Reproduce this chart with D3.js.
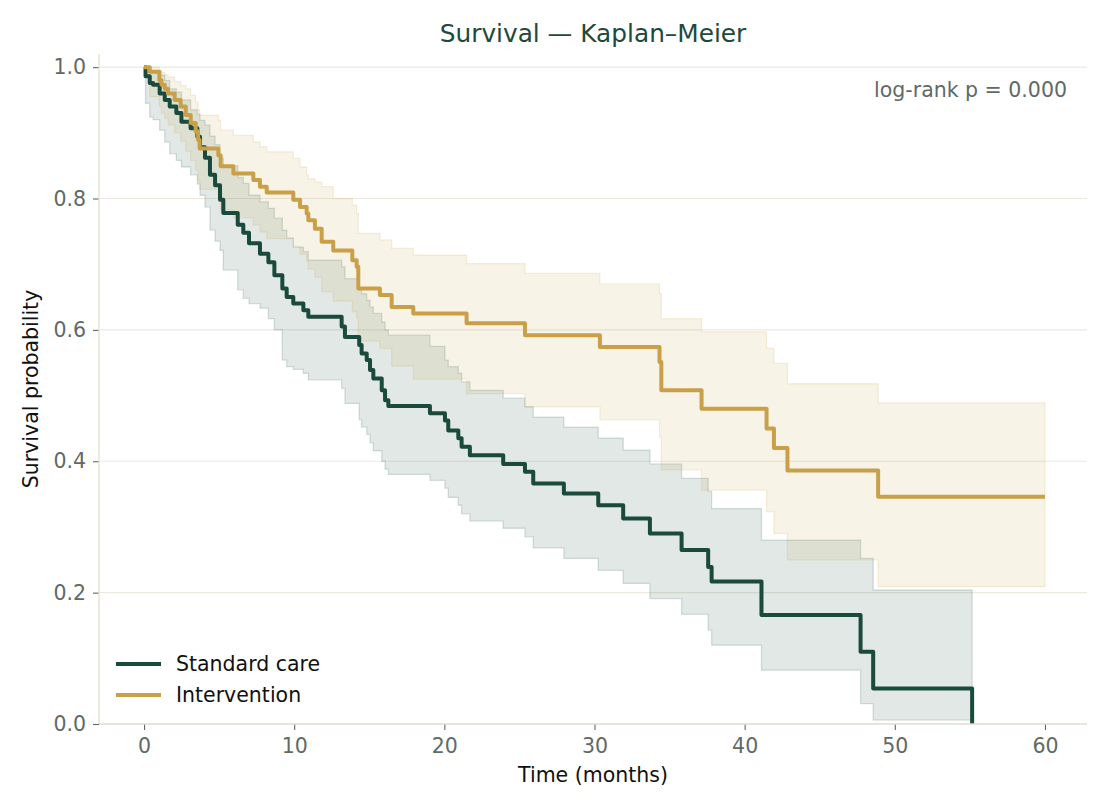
<!DOCTYPE html>
<html>
<head>
<meta charset="utf-8">
<script src="https://cdn.jsdelivr.net/npm/d3@7"></script>
<style>
  html, body { margin: 0; padding: 0; background: #fff; }
  svg { display: block; font-family: "DejaVu Sans", sans-serif; }
</style>
</head>
<body>
<div id="chart"></div>
<script>
/* Kaplan–Meier survival, two arms with step-shaped confidence bands.
 * Values; each array index is one event time. */

// ---- Standard care -------------------------------------------------------
const standardTime = [0, 0.10, 0.38, 0.60, 1.04, 1.38, 1.71, 2.15, 2.49, 3.10, 3.55, 3.73, 4.06, 4.39, 4.73,
  5.06, 5.28, 6.24, 6.61, 6.99, 7.72, 8.28, 8.68, 9.21, 9.50, 9.94, 10.61, 10.94, 13.16, 13.38,
  14.33, 14.49, 14.83, 15.05, 15.27, 15.83, 16.05, 16.27, 19.04, 20.04, 20.26, 20.93, 21.15, 21.70,
  23.92, 25.37, 25.92, 27.96, 30.25, 31.91, 33.69, 35.80, 37.57, 37.80, 41.12, 47.72, 48.56, 55.15];
const standardSurv = [1, 0.986, 0.976, 0.973, 0.960, 0.950, 0.940, 0.930, 0.917, 0.907, 0.894, 0.878, 0.862, 0.836, 0.820,
  0.798, 0.778, 0.760, 0.748, 0.732, 0.716, 0.703, 0.683, 0.663, 0.650, 0.640, 0.630, 0.620, 0.605, 0.589,
  0.577, 0.564, 0.554, 0.539, 0.526, 0.508, 0.493, 0.484, 0.473, 0.462, 0.447, 0.435, 0.422, 0.409,
  0.396, 0.384, 0.366, 0.351, 0.333, 0.313, 0.290, 0.265, 0.239, 0.217, 0.166, 0.110, 0.054, 0];
const standardLower = [1, 0.945, 0.924, 0.920, 0.904, 0.886, 0.868, 0.858, 0.848, 0.836, 0.822, 0.805, 0.787, 0.752, 0.735,
  0.721, 0.691, 0.661, 0.648, 0.640, 0.633, 0.617, 0.600, 0.554, 0.544, 0.540, 0.534, 0.524, 0.511, 0.488,
  0.463, 0.452, 0.441, 0.428, 0.416, 0.400, 0.388, 0.380, 0.371, 0.359, 0.345, 0.333, 0.320, 0.309,
  0.298, 0.285, 0.268, 0.252, 0.234, 0.214, 0.191, 0.167, 0.143, 0.120, 0.082, 0.031, 0.006, 0.006];
const standardUpper = [1, 0.998, 0.995, 0.993, 0.988, 0.980, 0.967, 0.962, 0.950, 0.935, 0.928, 0.919, 0.912, 0.895, 0.882,
  0.861, 0.850, 0.832, 0.823, 0.805, 0.795, 0.785, 0.770, 0.752, 0.740, 0.726, 0.719, 0.706, 0.696, 0.678,
  0.661, 0.655, 0.645, 0.635, 0.625, 0.612, 0.600, 0.592, 0.575, 0.554, 0.544, 0.534, 0.521, 0.508,
  0.496, 0.483, 0.467, 0.452, 0.435, 0.417, 0.396, 0.374, 0.354, 0.328, 0.280, 0.252, 0.204, 0.204];

// ---- Intervention --------------------------------------------------------
const interventionTime = [0, 0.38, 1.02, 1.16, 1.38, 1.60, 2.04, 2.44, 2.78, 3.11, 3.44, 3.60, 3.70, 4.95, 5.10,
  5.95, 7.28, 7.72, 8.17, 9.94, 10.39, 10.83, 10.94, 11.38, 11.83, 12.60, 13.87, 14.16, 14.27,
  15.71, 16.49, 17.93, 21.48, 25.37, 30.36, 34.33, 34.45, 37.13, 41.46, 41.95, 42.85, 48.89, 60.00];
const interventionSurv = [1, 0.993, 0.980, 0.973, 0.967, 0.960, 0.950, 0.940, 0.927, 0.915, 0.902, 0.889, 0.876, 0.866, 0.849,
  0.838, 0.828, 0.818, 0.809, 0.798, 0.787, 0.777, 0.767, 0.754, 0.734, 0.721, 0.706, 0.696, 0.663,
  0.653, 0.635, 0.625, 0.610, 0.592, 0.574, 0.551, 0.508, 0.480, 0.450, 0.420, 0.386, 0.346, 0.346];
const interventionLower = [1, 0.955, 0.940, 0.930, 0.922, 0.912, 0.900, 0.887, 0.872, 0.858, 0.843, 0.828, 0.814, 0.802, 0.783,
  0.771, 0.760, 0.749, 0.739, 0.727, 0.715, 0.704, 0.693, 0.680, 0.658, 0.644, 0.628, 0.618, 0.583,
  0.572, 0.545, 0.525, 0.503, 0.483, 0.463, 0.437, 0.387, 0.356, 0.323, 0.290, 0.250, 0.209, 0.209];
const interventionUpper = [1, 1.000, 0.995, 0.992, 0.988, 0.985, 0.978, 0.972, 0.967, 0.957, 0.947, 0.935, 0.927, 0.919, 0.904,
  0.896, 0.886, 0.879, 0.871, 0.861, 0.848, 0.836, 0.830, 0.825, 0.818, 0.800, 0.790, 0.777, 0.747,
  0.737, 0.724, 0.714, 0.701, 0.686, 0.670, 0.655, 0.617, 0.597, 0.572, 0.549, 0.518, 0.489, 0.489];

const xTicks = [0, 10, 20, 30, 40, 50, 60];
const yTicks = [0, 0.2, 0.4, 0.6, 0.8, 1.0];

const groups = [
  { name: 'Standard care', color: '#1a4a3c', time: standardTime, surv: standardSurv, lo: standardLower, hi: standardUpper },
  { name: 'Intervention',  color: '#c9a047', time: interventionTime, surv: interventionSurv, lo: interventionLower, hi: interventionUpper },
];

/* ---- Layout ------------------------------------------------------------ */
const W = 1110, H = 810;
const plot = { left: 99, right: 1087, top: 54, bottom: 724 };

const svg = d3.select('#chart').append('svg')
  .attr('width', W).attr('height', H);

const x = d3.scaleLinear().domain([-3, 62.8]).range([plot.left, plot.right]);
const y = d3.scaleLinear().domain([0, 1.02]).range([plot.bottom, plot.top]);

// Horizontal grid at the y ticks.
svg.append('g')
  .selectAll('line')
  .data(yTicks)
  .join('line')
  .attr('x1', plot.left).attr('x2', plot.right)
  .attr('y1', d => y(d)).attr('y2', d => y(d))
  .attr('stroke', '#ebe9e2').attr('stroke-width', 1.2);

/* ---- Bands and curves ---------------------------------------------------- */
const gData = svg.append('g');

groups.forEach(g => {
  const rows = g.time.map((t, i) => ({ t, s: g.surv[i], lo: g.lo[i], hi: g.hi[i] }));

  const band = d3.area()
    .curve(d3.curveStepAfter)
    .x(d => x(d.t))
    .y0(d => y(d.lo))
    .y1(d => y(d.hi));

  gData.append('path')
    .datum(rows)
    .attr('d', band)
    .attr('fill', g.color).attr('fill-opacity', 0.13)
    .attr('stroke', g.color).attr('stroke-opacity', 0.16).attr('stroke-width', 1.3);
});

groups.forEach(g => {
  const rows = g.time.map((t, i) => ({ t, s: g.surv[i] }));
  const line = d3.line()
    .curve(d3.curveStepAfter)
    .x(d => x(d.t))
    .y(d => y(d.s));

  gData.append('path')
    .datum(rows)
    .attr('d', line)
    .attr('fill', 'none')
    .attr('stroke', g.color)
    .attr('stroke-width', 4)
    .attr('stroke-linejoin', 'round');
});

/* ---- Axes ---------------------------------------------------------------- */
const tickColor = '#5f6a65';
const spineColor = '#e3dfd3';

const xAxis = svg.append('g')
  .attr('transform', `translate(0,${plot.bottom})`)
  .call(d3.axisBottom(x).tickValues(xTicks).tickFormat(d3.format('d')).tickSize(6).tickSizeOuter(0).tickPadding(8));

const yAxis = svg.append('g')
  .attr('transform', `translate(${plot.left},0)`)
  .call(d3.axisLeft(y).tickValues(yTicks).tickFormat(d3.format('.1f')).tickSize(6).tickSizeOuter(0).tickPadding(7));

[xAxis, yAxis].forEach(a => {
  a.select('.domain').remove();
  a.selectAll('.tick line').attr('stroke', tickColor).attr('stroke-width', 1.1);
  a.selectAll('.tick text')
    .attr('fill', tickColor)
    .style('font-family', '"DejaVu Sans", sans-serif')
    .style('font-size', '20.5px');
});

// Spines: left and bottom only.
svg.append('line')
  .attr('x1', plot.left).attr('x2', plot.left)
  .attr('y1', plot.top).attr('y2', plot.bottom)
  .attr('stroke', spineColor).attr('stroke-width', 1.3);
svg.append('line')
  .attr('x1', plot.left).attr('x2', plot.right)
  .attr('y1', plot.bottom).attr('y2', plot.bottom)
  .attr('stroke', spineColor).attr('stroke-width', 1.3);

/* ---- Text ---------------------------------------------------------------- */
svg.append('text')
  .attr('x', (plot.left + plot.right) / 2).attr('y', 42)
  .attr('text-anchor', 'middle')
  .attr('fill', '#1d4a3d')
  .style('font-size', '24.8px')
  .text('Survival — Kaplan–Meier');

svg.append('text')
  .attr('x', (plot.left + plot.right) / 2).attr('y', 782)
  .attr('text-anchor', 'middle')
  .attr('fill', '#111')
  .style('font-size', '20.5px')
  .text('Time (months)');

svg.append('text')
  .attr('transform', `translate(38,${(plot.top + plot.bottom) / 2}) rotate(-90)`)
  .attr('text-anchor', 'middle')
  .attr('fill', '#111')
  .style('font-size', '20.5px')
  .text('Survival probability');

svg.append('text')
  .attr('x', 1067).attr('y', 97)
  .attr('text-anchor', 'end')
  .attr('fill', tickColor)
  .style('font-size', '20.5px')
  .text('log-rank p = 0.000');

/* ---- Legend -------------------------------------------------------------- */
const legend = svg.append('g').attr('transform', 'translate(116,664)');
groups.forEach((g, i) => {
  const row = legend.append('g').attr('transform', `translate(0,${i * 31})`);
  row.append('line')
    .attr('x1', 0).attr('x2', 45)
    .attr('stroke', g.color).attr('stroke-width', 4);
  row.append('text')
    .attr('x', 60).attr('y', 7)
    .attr('fill', '#111')
    .style('font-size', '20.5px')
    .text(g.name);
});
</script>
</body>
</html>
